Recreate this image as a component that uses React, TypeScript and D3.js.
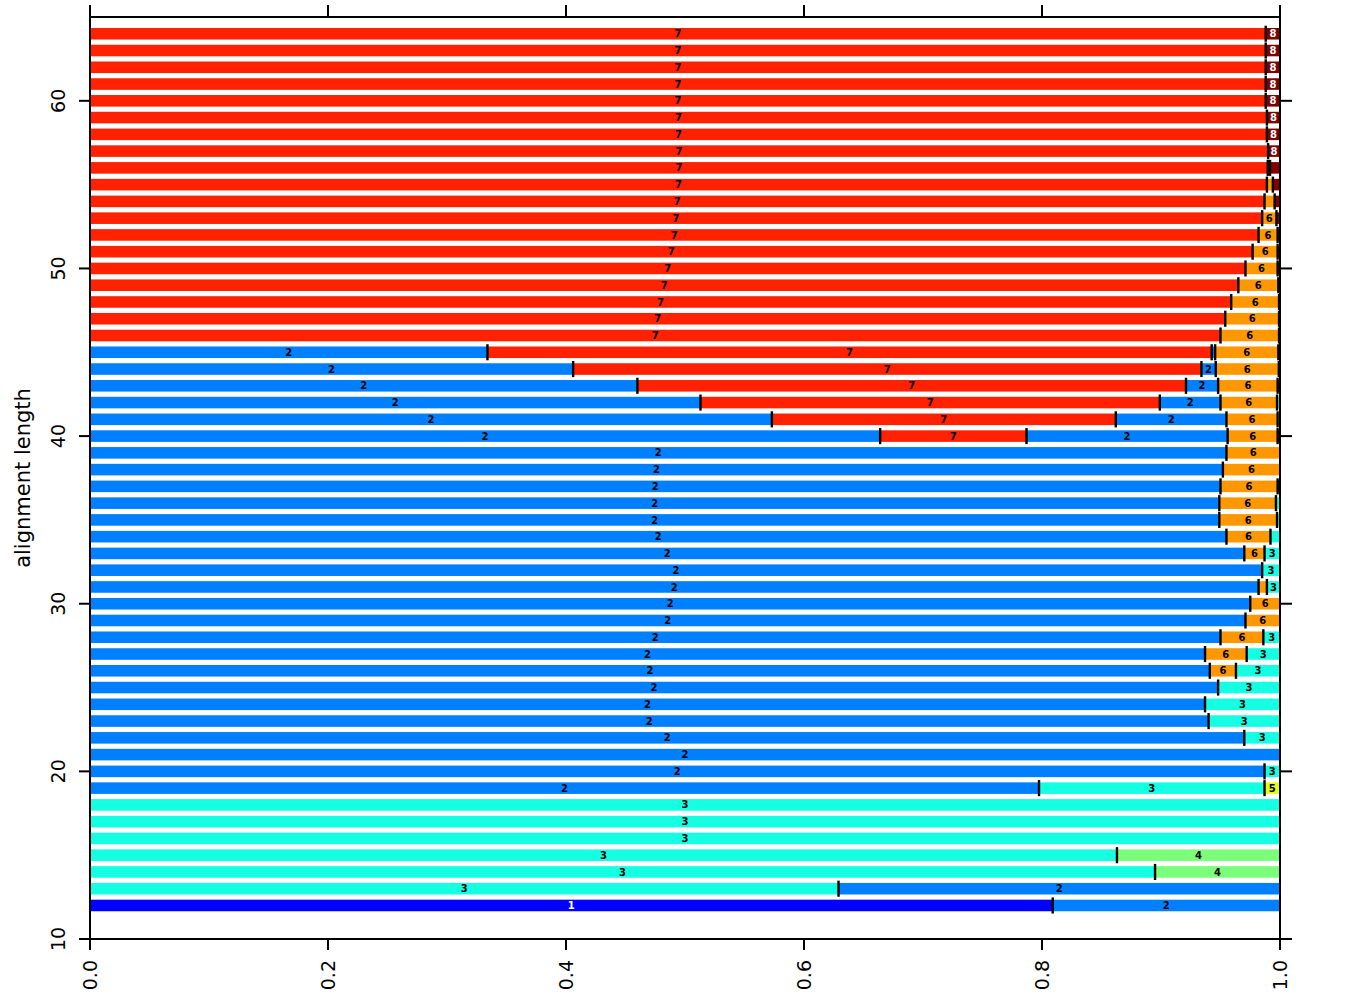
import * as d3 from "d3";

// alignment lengths shown on the y axis
const lengths = [12,13,14,15,16,17,18,19,20,21,22,23,24,25,26,27,28,29,30,31,32,33,34,35,36,37,38,
  39,40,41,42,43,44,45,46,47,48,49,50,51,52,53,54,55,56,57,58,59,60,61,62,63,64];

// per length: [category, cumulative end fraction] for each stacked segment
const segments: [number, number][][] = [
  [[1,0.809],[2,1]],
  [[3,0.629],[2,1]],
  [[3,0.895],[4,1]],
  [[3,0.863],[4,1]],
  [[3,1]],
  [[3,1]],
  [[3,1]],
  [[2,0.7975],[3,0.987],[5,1]],
  [[2,0.987],[3,1]],
  [[2,1]],
  [[2,0.970],[3,1]],
  [[2,0.940],[3,1]],
  [[2,0.937],[3,1]],
  [[2,0.948],[3,1]],
  [[2,0.941],[6,0.963],[3,1]],
  [[2,0.937],[6,0.972],[3,1]],
  [[2,0.950],[6,0.986],[3,1]],
  [[2,0.971],[6,1]],
  [[2,0.975],[6,1]],
  [[2,0.982],[6,0.989],[3,1]],
  [[2,0.985],[3,1]],
  [[2,0.970],[6,0.987],[3,1]],
  [[2,0.955],[6,0.992],[3,1]],
  [[2,0.949],[6,0.9975],[3,1]],
  [[2,0.949],[6,0.9966],[3,1]],
  [[2,0.950],[6,0.998],[8,1]],
  [[2,0.952],[6,1]],
  [[2,0.955],[6,1]],
  [[2,0.664],[7,0.787],[2,0.956],[6,0.998],[8,1]],
  [[2,0.573],[7,0.862],[2,0.955],[6,0.998],[3,1]],
  [[2,0.513],[7,0.899],[2,0.950],[6,0.9975],[3,1]],
  [[2,0.460],[7,0.921],[2,0.948],[6,0.998],[8,1]],
  [[2,0.406],[7,0.934],[2,0.946],[6,0.999],[8,1]],
  [[2,0.334],[7,0.9426],[2,0.9455],[6,0.9986],[8,1]],
  [[7,0.950],[6,0.9992],[8,1]],
  [[7,0.954],[6,0.9992],[8,1]],
  [[7,0.959],[6,0.9992],[8,1]],
  [[7,0.965],[6,0.9986],[8,1]],
  [[7,0.971],[6,0.998],[8,1]],
  [[7,0.977],[6,0.998],[8,1]],
  [[7,0.982],[6,0.998],[8,1]],
  [[7,0.985],[6,0.997],[8,1]],
  [[7,0.987],[6,0.9955],[8,1]],
  [[7,0.989],[6,0.994],[8,1]],
  [[7,0.9897],[6,0.9916],[8,1]],
  [[7,0.990],[8,1]],
  [[7,0.989],[8,1]],
  [[7,0.989],[8,1]],
  [[7,0.988],[8,1]],
  [[7,0.988],[8,1]],
  [[7,0.988],[8,1]],
  [[7,0.988],[8,1]],
  [[7,0.988],[8,1]],
];

const xTicks = [0, 0.2, 0.4, 0.6, 0.8, 1.0];
const yTicks = [10, 20, 30, 40, 50, 60];
const nCat = 8;

// matplotlib-style jet colormap
function jet(v: number) {
  const r = d3.scaleLinear().domain([0, 0.35, 0.66, 0.89, 1]).range([0, 0, 1, 1, 0.5]).clamp(true)(v);
  const g = d3.scaleLinear().domain([0, 0.125, 0.375, 0.64, 0.91, 1]).range([0, 0, 1, 1, 0, 0]).clamp(true)(v);
  const b = d3.scaleLinear().domain([0, 0.11, 0.34, 0.65, 1]).range([0.5, 1, 1, 0, 0]).clamp(true)(v);
  return d3.rgb(r * 255, g * 255, b * 255).formatHex();
}

export default function App() {
  const W = 1370, H = 998;
  const mg = { l: 90, r: 90, t: 17, b: 59 };
  const x = d3.scaleLinear().domain([0, 1]).range([mg.l, W - mg.r]);
  const y = d3.scaleLinear().domain([10, 65]).range([H - mg.b, mg.t]);
  const unit = Math.abs(y(1) - y(0));
  const barH = unit * 0.69;
  const tickH = unit * 0.96;
  const col = (k: number) => jet(k / nCat);
  const font = "DejaVu Sans";

  return (
    <div style={{ position: "absolute", left: 0, top: 0 }}>
      <svg width={W} height={H} style={{ display: "block", background: "#fff" }}>
        {lengths.map((len, i) => {
          const segs = segments[i];
          const cy = y(len);
          let start = 0;
          return (
            <g key={len}>
              {segs.map(([cat, end], j) => {
                const s = start;
                start = end;
                const x0 = x(s), x1 = x(end);
                const w = x1 - x0;
                return (
                  <g key={j}>
                    <rect x={x0} y={cy - barH / 2} width={w} height={barH} fill={col(cat)} />
                    {w >= 11 && (
                      <text x={(x0 + x1) / 2} y={cy} dy="0.36em" textAnchor="middle" fontFamily={font}
                        fontWeight="bold" fontSize={10} fill={cat === 1 || cat === 8 ? "#fff" : "#000"}>
                        {cat}
                      </text>
                    )}
                  </g>
                );
              })}
              {segs.slice(0, -1).map(([, end], j) => (
                <line key={"b" + j} x1={x(end)} x2={x(end)} y1={cy - tickH / 2} y2={cy + tickH / 2}
                  stroke="#000" strokeWidth={2.4} />
              ))}
            </g>
          );
        })}

        <rect x={x(0)} y={y(65)} width={x(1) - x(0)} height={y(10) - y(65)} fill="none" stroke="#000" strokeWidth={2} />

        {xTicks.map(t => (
          <g key={"x" + t}>
            <line x1={x(t)} x2={x(t)} y1={y(10)} y2={y(10) + 11} stroke="#000" strokeWidth={2} />
            <line x1={x(t)} x2={x(t)} y1={y(65)} y2={y(65) - 12} stroke="#000" strokeWidth={2} />
            <text transform={`translate(${x(t) + 7},${y(10) + 21}) rotate(-90)`} textAnchor="end"
              fontFamily={font} fontSize={19} fill="#000">{t.toFixed(1)}</text>
          </g>
        ))}
        {yTicks.map(t => (
          <g key={"y" + t}>
            <line x1={x(0) - 11} x2={x(0)} y1={y(t)} y2={y(t)} stroke="#000" strokeWidth={2} />
            <line x1={x(1)} x2={x(1) + 12} y1={y(t)} y2={y(t)} stroke="#000" strokeWidth={2} />
            <text transform={`translate(65,${y(t)}) rotate(-90)`} textAnchor="middle"
              fontFamily={font} fontSize={19} fill="#000">{t}</text>
          </g>
        ))}
        <text transform={`translate(30,${(y(10) + y(65)) / 2}) rotate(-90)`} textAnchor="middle"
          fontFamily={font} fontSize={21} fill="#000">alignment length</text>
      </svg>
    </div>
  );
}
